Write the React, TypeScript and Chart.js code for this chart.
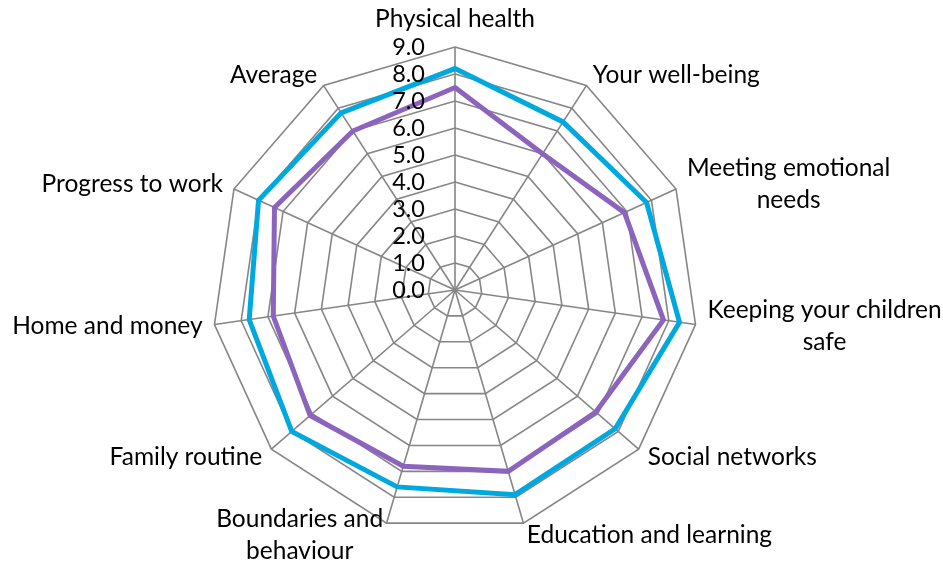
import React, { useEffect, useRef } from 'react';
import { Chart, registerables } from 'chart.js';
Chart.register(...registerables);

const categories: string[][] = [
  ['Physical health'],
  ['Your well-being'],
  ['Meeting emotional', 'needs'],
  ['Keeping your children', 'safe'],
  ['Social networks'],
  ['Education and learning'],
  ['Boundaries and', 'behaviour'],
  ['Family routine'],
  ['Home and money'],
  ['Progress to work'],
  ['Average'],
];

const seriesBlue = [8.2, 7.4, 7.8, 8.4, 7.85, 7.9, 7.6, 8.0, 7.7, 8.0, 7.8];
const seriesPurple = [7.5, 6.0, 6.9, 7.8, 6.9, 7.0, 6.8, 7.1, 6.8, 7.35, 7.0];

const tickLabels = ['0.0', '1.0', '2.0', '3.0', '4.0', '5.0', '6.0', '7.0', '8.0', '9.0'];

const FONT_FAMILY = 'Lato';
const LABEL_SIZE = 24.5;
const TICK_SIZE = 23.5;
const LINE_H = 32;

const labelPlugin = {
  id: 'excelLabels',
  afterDraw(chart: any) {
    const scale = chart.scales.r;
    const ctx: CanvasRenderingContext2D = chart.ctx;
    ctx.save();
    ctx.fillStyle = '#000000';
    ctx.font = `${TICK_SIZE}px ${FONT_FAMILY}`;
    ctx.textAlign = 'right';
    ctx.textBaseline = 'middle';
    scale.ticks.forEach((t: any, i: number) => {
      const d = scale.getDistanceFromCenterForValue(t.value);
      if (tickLabels[i] !== undefined) {
        ctx.fillText(tickLabels[i], scale.xCenter - 30, scale.yCenter - d);
      }
    });
    ctx.font = `${LABEL_SIZE}px ${FONT_FAMILY}`;
    const R = scale.drawingArea + 12;
    categories.forEach((lines, i) => {
      const p = scale.getPointPosition(i, R);
      const cos = Math.cos(p.angle);
      const sin = Math.sin(p.angle);
      const W = Math.max(...lines.map((l) => ctx.measureText(l).width));
      const H = lines.length * LINE_H;
      let cx: number;
      if (Math.abs(cos) < 0.05) cx = p.x;
      else if (cos > 0) cx = p.x + W / 2;
      else cx = p.x - W / 2;
      let top: number;
      if (sin < -0.99) top = p.y - H;
      else if (sin > 0.99) top = p.y;
      else top = p.y - H / 2;
      ctx.textAlign = 'center';
      ctx.textBaseline = 'middle';
      lines.forEach((l, j) => ctx.fillText(l, cx, top + LINE_H * (j + 0.5)));
    });
    ctx.restore();
  },
};

export default function App() {
  const ref = useRef<HTMLCanvasElement | null>(null);
  useEffect(() => {
    document.body.style.margin = '0';
    const canvas = ref.current;
    if (!canvas) return;
    const chart = new Chart(canvas, {
      type: 'radar',
      data: {
        labels: categories.map((c) => c.join(' ')),
        datasets: [
          {
            label: 'Series 2',
            data: seriesBlue,
            borderColor: '#00A8E0',
            backgroundColor: 'transparent',
            borderWidth: 5,
            pointRadius: 0,
            fill: false,
            tension: 0,
          },
          {
            label: 'Series 1',
            data: seriesPurple,
            borderColor: '#8D64BD',
            backgroundColor: 'transparent',
            borderWidth: 5,
            pointRadius: 0,
            fill: false,
            tension: 0,
          },
        ],
      },
      options: {
        animation: false,
        responsive: false,
        maintainAspectRatio: false,
        layout: { padding: { left: 212, right: 245, top: 47, bottom: 31 } },
        plugins: { legend: { display: false }, tooltip: { enabled: false } },
        scales: {
          r: {
            min: 0,
            max: 9,
            ticks: { stepSize: 1, display: false },
            grid: { color: '#868686', lineWidth: 1.6 },
            angleLines: { color: '#868686', lineWidth: 1.6 },
            pointLabels: { display: false },
          },
        },
      },
      plugins: [labelPlugin],
    });
    return () => chart.destroy();
  }, []);
  return (
    <div style={{ width: 943, height: 564, background: '#ffffff' }}>
      <canvas ref={ref} width={943} height={564} style={{ display: 'block' }} />
    </div>
  );
}
